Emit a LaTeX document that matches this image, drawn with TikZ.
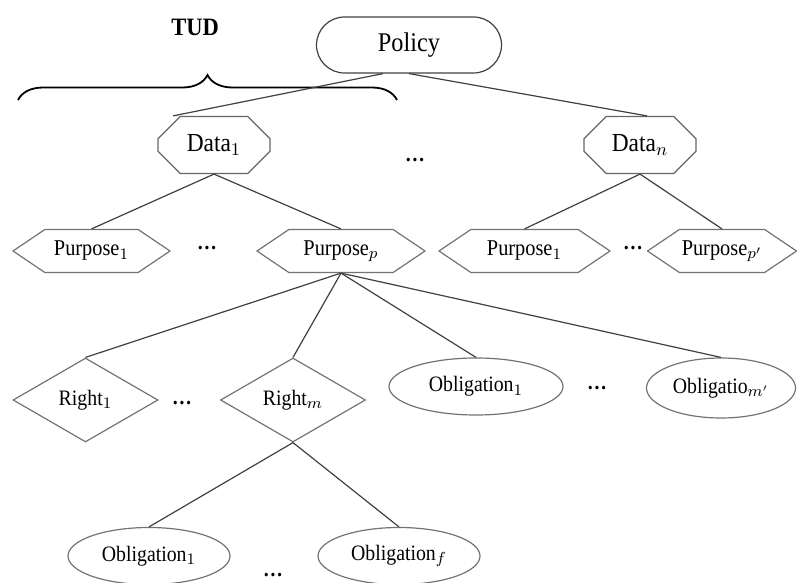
\documentclass[tikz,border=0pt]{standalone}
\usepackage{fontspec}
\setmainfont[FakeStretch=0.9]{Liberation Serif}
\usetikzlibrary{shapes.geometric,shapes.misc,shapes.symbols,decorations.pathreplacing,calc}

\begin{document}
\begin{tikzpicture}[x=0.5pt,y=-0.5pt,
  link/.style={draw=black!75, line width=0.6pt},
  policybox/.style={rounded rectangle, draw=black!75, line width=0.6pt, inner sep=0pt,
    minimum width=92.5pt, minimum height=28pt, font=\fontsize{13.5}{16}\selectfont},
  databox/.style={chamfered rectangle, chamfered rectangle xsep=6pt, chamfered rectangle ysep=6pt,
    draw=black!60, line width=0.6pt, inner sep=0pt, minimum width=56pt, minimum height=28.5pt,
    font=\fontsize{13}{15}\selectfont},
  purposebox/.style={signal, signal to=west and east, signal pointer angle=68, draw=black!55,
    line width=0.6pt, inner sep=0pt, minimum width=#1, minimum height=21.5pt,
    font=\fontsize{11.3}{13}\selectfont},
  purposebox/.default=82pt,
  rightbox/.style={diamond, draw=black!55, line width=0.6pt, inner sep=0pt,
    minimum width=72.5pt, minimum height=42pt, font=\fontsize{11}{13}\selectfont},
  oblbox/.style={ellipse, draw=black!55, line width=0.6pt, inner sep=0pt,
    minimum width=#1, minimum height=28.5pt, font=\fontsize{11}{13}\selectfont},
  oblbox/.default=85pt,
  gap/.style={font=\fontsize{11}{13}\selectfont\bfseries}]
\useasboundingbox (0,0) rectangle (797,583);

% top level
\node[policybox] (policy) at (409,45) {Policy};
\node[font=\fontsize{12.5}{15}\selectfont\bfseries] (tud) at (195,27) {TUD};
\coordinate (bl) at (18,100);
\coordinate (br) at (397,100);
\draw[decorate, decoration={brace, amplitude=12.5pt}, line width=0.9pt] (bl) -- (br);

% data
\node[databox] (data1) at (214,145) {Data$_1$};
\node[databox] (datan) at (640,145) {Data$_n$};
\node[gap] (dots1) at (415,160) {\ldots};

% purposes
\node[purposebox=78.5pt] (pur1) at (91.5,251) {Purpose$_1$};
\node[purposebox=84pt] (purp) at (341,251) {Purpose$_p$};
\node[purposebox=85.5pt] (purq) at (524.5,251) {Purpose$_1$};
\node[purposebox=74.5pt] (purr) at (722,251) {Purpose$_{p'}$};
\node[gap] (dots2) at (207,248) {\ldots};
\node[gap] (dots3) at (633,248) {\ldots};

% rights and obligations
\node[rightbox] (right1) at (85.5,400) {Right$_1$};
\node[rightbox] (rightm) at (293,400) {Right$_m$};
\node[gap] (dots4) at (182,403) {\ldots};
\node[oblbox=87pt] (obl1) at (476,386.5) {Obligation$_1$};
\node[oblbox=74.5pt, minimum height=30pt] (oblm) at (721,388) {Obligatio$_{m'}$};
\node[gap] (dots5) at (597,388) {\ldots};
\node[oblbox=81pt] (obla) at (149,556) {Obligation$_1$};
\node[oblbox=81pt] (oblb) at (399,556) {Obligation$_f$};
\node[gap] (dots6) at (273,575) {\ldots};

% connectors
\draw[link] ([xshift=-13pt]policy.south) -- ([xshift=-20.5pt]data1.north);
\draw[link] (policy.south) -- ([xshift=3.5pt]datan.north);
\draw[link] (data1.south) -- (pur1.north);
\draw[link] (data1.south) -- (purp.north);
\draw[link] (datan.south) -- (purq.north);
\draw[link] (datan.south) -- (purr.north);
\draw[link] (purp.south) -- (right1.north);
\draw[link] (purp.south) -- (rightm.north);
\draw[link] (purp.south) -- (obl1.north);
\draw[link] (purp.south) -- (oblm.north);
\draw[link] (rightm.south) -- (obla.north);
\draw[link] (rightm.south) -- (oblb.north);
\end{tikzpicture}
\end{document}
